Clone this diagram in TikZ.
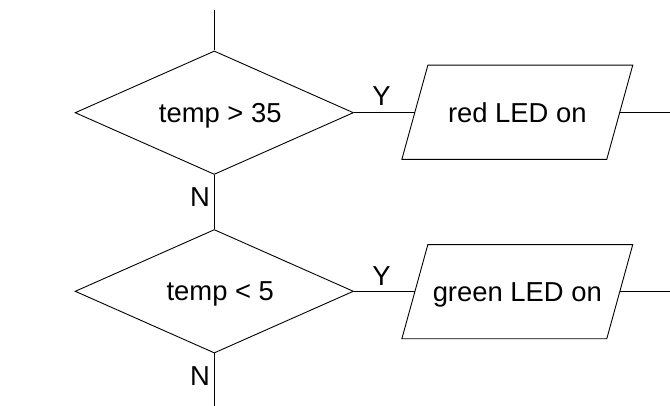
\documentclass[tikz,border=0pt]{standalone}
\usepackage{fontspec}
\setmainfont{Liberation Sans}
\usetikzlibrary{positioning,shapes.geometric}

\tikzset{
  decision/.style={draw,diamond,shape aspect=2.25,inner sep=0pt,
    minimum width=278.4pt,minimum height=123.5pt},
  iobox/.style={rectangle,inner sep=0pt,minimum width=204pt,minimum height=93.3pt},
  flowtext/.style={font=\fontsize{27.4}{32}\selectfont,text depth=0pt},
  flowline/.style={line width=0.9pt}
}

\begin{document}
\begin{tikzpicture}[x=1pt,y=-1pt,every node/.style={flowtext},every path/.style={flowline}]
  \useasboundingbox (0,0) rectangle (670,406);
  % decisions
  \node[decision,label={[xshift=6pt]center:temp > 35}] (hot)  at (214.3,112.7) {};
  \node[decision,label={[xshift=6pt]center:temp < 5}]  (cold) at (214.3,291.3) {};
  % outputs
  \node[iobox] (red)   at (517.3,112.3) {red LED on};
  \node[iobox] (green) at (517.3,291.7) {green LED on};
  \foreach \b in {red,green}
    \draw ([xshift=-13pt]\b.south west) -- ([xshift=-13pt]\b.south east)
      -- ([xshift=13pt]\b.north east) -- ([xshift=13pt]\b.north west) -- cycle;
  % loose ends
  \coordinate (in)   at (214.3,10);
  \coordinate (out)  at (214.3,406);
  \coordinate (redout)   at (670,112.3);
  \coordinate (greenout) at (670,291.7);
  % connectors
  \draw (in) -- (hot.north);
  \draw (hot.south) -- (cold.north);
  \draw (cold.south) -- (out);
  \draw (hot.east) -- (hot.east -| red.west);
  \draw (cold.east) -- (cold.east -| green.west);
  \draw (red.east) -- (redout);
  \draw (green.east) -- (greenout);
  % branch labels
  \node at (381.5,96.5)  {Y};
  \node at (381.5,276.5) {Y};
  \node at (200,196.7) {N};
  \node at (200,376.5) {N};
\end{tikzpicture}
\end{document}
